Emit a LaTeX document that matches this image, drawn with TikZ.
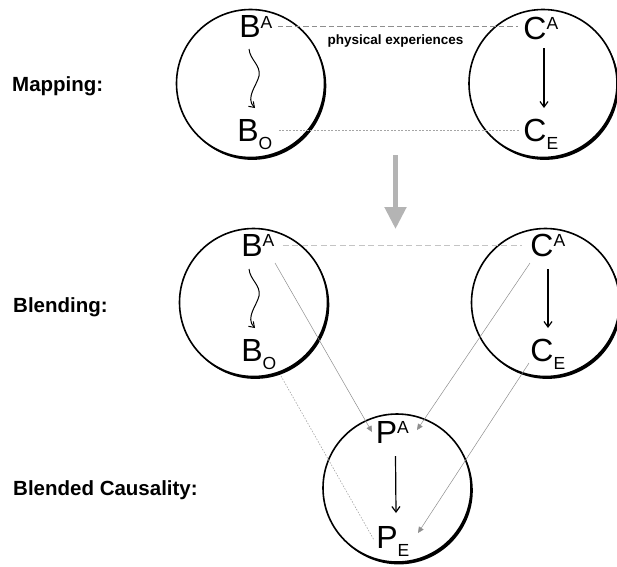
\documentclass[tikz,border=0pt]{standalone}
\usepackage{fontspec}
\setmainfont{Liberation Sans}
\usetikzlibrary{arrows.meta,calc}

% raised / lowered index letters that do not change the size of the node
\newcommand{\upidx}[1]{\rlap{\smash{\raisebox{9.5pt}{\fontsize{17.5}{18}\selectfont #1}}}}
\newcommand{\lowidx}[1]{\rlap{\smash{\raisebox{-8pt}{\fontsize{17.5}{18}\selectfont #1}}}}

\definecolor{linkgray}{HTML}{8E8E8E}
\definecolor{paleline}{HTML}{C4C4C4}
\definecolor{flowgray}{HTML}{B4B4B4}

\tikzset{
  letter/.style={inner sep=0pt, font=\fontsize{32}{32}\selectfont},
  stage/.style={inner sep=0pt, anchor=base west, font=\bfseries\fontsize{20.5}{24}\selectfont},
  ring/.pic={
    \begin{scope}[even odd rule]
      \clip (-90pt,-90pt) rectangle (90pt,90pt) (0pt,0pt) circle[radius=74pt];
      \fill (1.8pt,-2.4pt) circle[radius=74pt];
    \end{scope}
    \draw[line width=1.6pt] (0pt,0pt) circle[radius=74pt];
  },
  cause/.style={line width=1.2pt, -{Straight Barb[length=5.5pt,width=8pt]}},
  wave/.style={line width=1pt, -{Straight Barb[length=5pt,width=7pt]}},
  mapline/.style={draw=linkgray, line width=0.7pt, dash pattern=on 5.5pt off 3pt},
  mapdots/.style={draw=linkgray!80, line width=0.6pt, dash pattern=on 2pt off 1.5pt},
  blendline/.style={draw=paleline, line width=1pt, dash pattern=on 6pt off 3.5pt},
  feed/.style={draw=linkgray, line width=0.5pt, -{Triangle[length=6pt,width=5.5pt,fill=linkgray]}},
  feeddots/.style={draw=linkgray!80, line width=0.6pt, dash pattern=on 1.5pt off 1.5pt},
}

\begin{document}
\begin{tikzpicture}[x=1pt,y=-1pt]
\useasboundingbox (0,0) rectangle (617,566);

% spaces
\pic at (250.5,83.5) {ring};
\pic at (543,83.5) {ring};
\pic at (253.5,302.5) {ring};
\pic at (545.5,302.5) {ring};
\pic at (397,488) {ring};

% row labels
\node[stage] (mapping) at (12,91) {Mapping:};
\node[stage] (blending) at (13,312) {Blending:};
\node[stage] (blended) at (13,495) {Blended Causality:};

% mapping row
\node[letter] (bA1) at (250,26.5) {B\upidx{A}};
\node[letter] (bO1) at (248,130) {B\lowidx{O}};
\node[letter] (cA1) at (535,28) {C\upidx{A}};
\node[letter] (cE1) at (535,130) {C\lowidx{E}};
\node[inner sep=0pt, anchor=base, font=\bfseries\fontsize{13.5}{16}\selectfont] (phys) at (395.5,44) {physical experiences};

\draw[mapline] ($(bA1.east)+(17,0)$) -- ($(cA1.west)+(-5,-1.5)$);
\draw[mapdots] ($(bO1.east)+(20,0)$) -- ($(cE1.west)+(-3,0)$);
\draw[wave] ($(bA1)+(-1,22.5)$) .. controls +(1,11) and +(2,-11) .. ++(10,27)
  .. controls +(-2,9) and +(-10,-10) .. ($(bO1)+(7,-22)$);
\draw[cause] ($(cA1)+(9,20)$) -- ($(cE1)+(9,-22)$);

% transition arrow
\coordinate (flowtop) at (395.5,155);
\coordinate (flowbot) at (395.5,229);
\draw[flowgray, line width=5pt, -{Triangle[length=22pt,width=21pt]}] (flowtop) -- (flowbot);

% blending row
\node[letter] (bA2) at (252,245) {B\upidx{A}};
\node[letter] (bO2) at (252,350) {B\lowidx{O}};
\node[letter] (cA2) at (542,245) {C\upidx{A}};
\node[letter] (cE2) at (542,350) {C\lowidx{E}};

\draw[blendline] ($(bA2.east)+(20,0)$) -- ($(cA2.west)+(-8,0)$);
\draw[wave] ($(bA2)+(-3,24)$) .. controls +(1,11) and +(2,-11) .. ++(10,27)
  .. controls +(-2,9) and +(-10,-10) .. ($(bO2)+(3,-22)$);
\draw[cause] ($(cA2)+(6,24)$) -- ($(cE2)+(6,-22)$);

% blended space
\node[letter] (pA) at (386.5,432) {P\upidx{A}};
\node[letter] (pE) at (387,537) {P\lowidx{E}};
\draw[cause] ($(pA)+(9,24)$) -- ($(pE)+(9,-24)$);

% projections into the blend
\draw[feed] ($(bA2)+(23,18)$) -- ($(pA)+(-14.5,0)$);
\draw[feed] ($(cA2)+(-12,18)$) -- ($(pA)+(30.5,-2)$);
\draw[feed] ($(cE2)+(-13,13)$) -- ($(pE)+(31,-4)$);
\draw[feeddots] ($(bO2)+(29,26)$) -- ($(pE)+(-13,3)$);
\end{tikzpicture}
\end{document}
